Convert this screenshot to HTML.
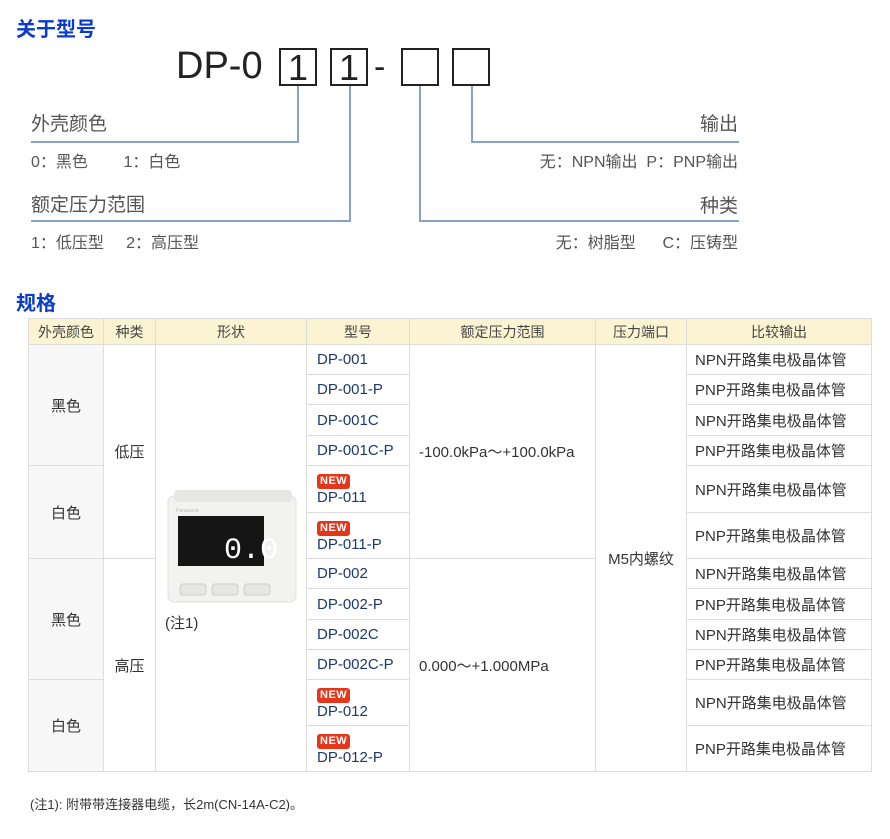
<!DOCTYPE html>
<html><head><meta charset="utf-8">
<style>
body{margin:0;width:890px;height:839px;background:#fff;position:relative;overflow:hidden;font-family:"Liberation Sans","Noto Sans CJK SC",sans-serif;}
.a{position:absolute;white-space:nowrap;}
.t{color:#0a3ccc;font-weight:bold;font-size:20px;}
.g{color:#555;}
.ln{position:absolute;background:#86a3c3;}
.bx{position:absolute;border:2px solid #222;box-sizing:border-box;width:38px;height:38px;top:48px;font-size:36px;line-height:36px;text-align:center;color:#222;}
.c{position:absolute;box-sizing:border-box;border-right:1px solid #ddd;border-bottom:1px solid #ddd;font-size:15px;color:#333;display:flex;align-items:center;}
.h{background:#fbf3d2;justify-content:center;color:#444;font-size:14px;}
.m{color:#1b3a6b;padding-left:10px;}
.o{padding-left:8px;}
.cc{justify-content:center;}
.gray{background:#f7f7f7;}
.nw{display:inline-block;background:#e5361c;color:#fff;font-size:11px;font-weight:bold;border-radius:3px;padding:0 3px;line-height:15px;letter-spacing:0.5px;}
</style></head><body>
<div class="a t" style="left:16px;top:13px;">关于型号</div>
<div class="a" style="left:176px;top:45px;font-size:38px;color:#222;">DP-0</div>
<div class="bx" style="left:279px;">1</div>
<div class="bx" style="left:330px;">1</div>
<div class="a" style="left:374px;top:48px;font-size:34px;color:#222;">-</div>
<div class="bx" style="left:401px;"></div>
<div class="bx" style="left:452px;"></div>
<div class="ln" style="left:297px;top:86px;width:2px;height:57px;"></div>
<div class="ln" style="left:31px;top:141px;width:268px;height:2px;"></div>
<div class="ln" style="left:349px;top:86px;width:2px;height:136px;"></div>
<div class="ln" style="left:31px;top:220px;width:320px;height:2px;"></div>
<div class="ln" style="left:419px;top:86px;width:2px;height:136px;"></div>
<div class="ln" style="left:419px;top:220px;width:320px;height:2px;"></div>
<div class="ln" style="left:471px;top:86px;width:2px;height:57px;"></div>
<div class="ln" style="left:471px;top:141px;width:268px;height:2px;"></div>
<div class="a g" style="left:31px;top:109px;font-size:19px;">外壳颜色</div>
<div class="a g" style="left:31px;top:148px;font-size:16px;">0：黑色&nbsp;&nbsp;&nbsp;&nbsp;&nbsp;&nbsp;&nbsp;&nbsp;1：白色</div>
<div class="a g" style="left:31px;top:190px;font-size:19px;">额定压力范围</div>
<div class="a g" style="left:31px;top:229px;font-size:16px;">1：低压型&nbsp;&nbsp;&nbsp;&nbsp;&nbsp;2：高压型</div>
<div class="a g" style="right:152px;top:109px;font-size:19px;">输出</div>
<div class="a g" style="right:152px;top:148px;font-size:16px;">无：NPN输出&nbsp;&nbsp;P：PNP输出</div>
<div class="a g" style="right:152px;top:191px;font-size:19px;">种类</div>
<div class="a g" style="right:152px;top:229px;font-size:16px;">无：树脂型&nbsp;&nbsp;&nbsp;&nbsp;&nbsp;&nbsp;C：压铸型</div>

<div class="a t" style="left:16px;top:287px;">规格</div>
<div style="position:absolute;left:28px;top:318px;width:844px;height:455px;border-left:1px solid #ddd;border-top:1px solid #ddd;box-sizing:border-box;"></div>
<div class="c h" style="left:29px;top:319px;width:75px;height:26px;">外壳颜色</div>
<div class="c h" style="left:104px;top:319px;width:52px;height:26px;">种类</div>
<div class="c h" style="left:156px;top:319px;width:151px;height:26px;">形状</div>
<div class="c h" style="left:307px;top:319px;width:103px;height:26px;">型号</div>
<div class="c h" style="left:410px;top:319px;width:186px;height:26px;">额定压力范围</div>
<div class="c h" style="left:596px;top:319px;width:91px;height:26px;">压力端口</div>
<div class="c h" style="left:687px;top:319px;width:185px;height:26px;">比较输出</div>
<div class="c cc gray" style="left:29px;top:345px;width:75px;height:121px;">黑色</div>
<div class="c cc gray" style="left:29px;top:466px;width:75px;height:93px;">白色</div>
<div class="c cc gray" style="left:29px;top:559px;width:75px;height:121px;">黑色</div>
<div class="c cc gray" style="left:29px;top:680px;width:75px;height:92px;">白色</div>
<div class="c cc" style="left:104px;top:345px;width:52px;height:214px;">低压</div>
<div class="c cc" style="left:104px;top:559px;width:52px;height:213px;">高压</div>
<div class="c" style="left:156px;top:345px;width:151px;height:427px;"></div>
<svg class="a" style="left:166px;top:490px;" width="135" height="115" viewBox="0 0 135 115">
<rect x="2" y="6" width="128" height="106" rx="6" fill="#f2f2f0" stroke="#e0e0de"/>
<rect x="8" y="0" width="118" height="12" rx="4" fill="#e6e6e4"/>
<text x="10" y="22" font-size="5" fill="#bbb" font-family="Liberation Sans">Panasonic</text>
<rect x="12" y="26" width="86" height="50" fill="#151515"/>
<text x="58" y="68" font-size="30" fill="#fff" font-family="Liberation Mono">0.0</text>
<rect x="14" y="94" width="26" height="11" rx="3" fill="#e6e6e4" stroke="#ccc"/>
<rect x="46" y="94" width="26" height="11" rx="3" fill="#e6e6e4" stroke="#ccc"/>
<rect x="78" y="94" width="26" height="11" rx="3" fill="#e6e6e4" stroke="#ccc"/>
</svg>
<div class="a" style="left:165px;top:612px;font-size:15px;color:#333;">(注1)</div>
<div class="c m" style="left:307px;top:345px;width:103px;height:30px;">DP-001</div>
<div class="c m" style="left:307px;top:375px;width:103px;height:30px;">DP-001-P</div>
<div class="c m" style="left:307px;top:405px;width:103px;height:31px;">DP-001C</div>
<div class="c m" style="left:307px;top:436px;width:103px;height:30px;">DP-001C-P</div>
<div class="c m" style="left:307px;top:466px;width:103px;height:47px;display:block;padding-top:5px;line-height:18px;"><span class="nw">NEW</span><br>DP-011</div>
<div class="c m" style="left:307px;top:513px;width:103px;height:46px;display:block;padding-top:5px;line-height:18px;"><span class="nw">NEW</span><br>DP-011-P</div>
<div class="c m" style="left:307px;top:559px;width:103px;height:30px;">DP-002</div>
<div class="c m" style="left:307px;top:589px;width:103px;height:31px;">DP-002-P</div>
<div class="c m" style="left:307px;top:620px;width:103px;height:30px;">DP-002C</div>
<div class="c m" style="left:307px;top:650px;width:103px;height:30px;">DP-002C-P</div>
<div class="c m" style="left:307px;top:680px;width:103px;height:46px;display:block;padding-top:5px;line-height:18px;"><span class="nw">NEW</span><br>DP-012</div>
<div class="c m" style="left:307px;top:726px;width:103px;height:46px;display:block;padding-top:5px;line-height:18px;"><span class="nw">NEW</span><br>DP-012-P</div>
<div class="c" style="left:410px;top:345px;width:186px;height:214px;padding-left:9px;">-100.0kPa～+100.0kPa</div>
<div class="c" style="left:410px;top:559px;width:186px;height:213px;padding-left:9px;">0.000～+1.000MPa</div>
<div class="c cc" style="left:596px;top:345px;width:91px;height:427px;">M5内螺纹</div>
<div class="c o" style="left:687px;top:345px;width:185px;height:30px;">NPN开路集电极晶体管</div>
<div class="c o" style="left:687px;top:375px;width:185px;height:30px;">PNP开路集电极晶体管</div>
<div class="c o" style="left:687px;top:405px;width:185px;height:31px;">NPN开路集电极晶体管</div>
<div class="c o" style="left:687px;top:436px;width:185px;height:30px;">PNP开路集电极晶体管</div>
<div class="c o" style="left:687px;top:466px;width:185px;height:47px;">NPN开路集电极晶体管</div>
<div class="c o" style="left:687px;top:513px;width:185px;height:46px;">PNP开路集电极晶体管</div>
<div class="c o" style="left:687px;top:559px;width:185px;height:30px;">NPN开路集电极晶体管</div>
<div class="c o" style="left:687px;top:589px;width:185px;height:31px;">PNP开路集电极晶体管</div>
<div class="c o" style="left:687px;top:620px;width:185px;height:30px;">NPN开路集电极晶体管</div>
<div class="c o" style="left:687px;top:650px;width:185px;height:30px;">PNP开路集电极晶体管</div>
<div class="c o" style="left:687px;top:680px;width:185px;height:46px;">NPN开路集电极晶体管</div>
<div class="c o" style="left:687px;top:726px;width:185px;height:46px;">PNP开路集电极晶体管</div>

<div class="a" style="left:30px;top:794px;font-size:13px;color:#333;">(注1): 附带带连接器电缆，长2m(CN-14A-C2)。</div>
</body></html>
